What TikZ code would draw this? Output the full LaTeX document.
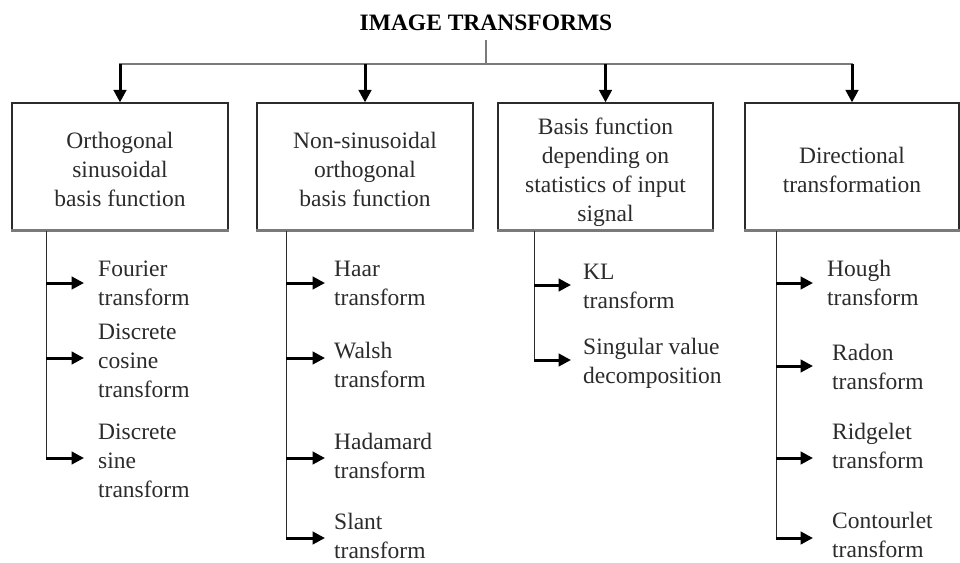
\documentclass[tikz,border=0pt]{standalone}
\usepackage{fontspec}
\setmainfont{Liberation Serif}
\usetikzlibrary{arrows.meta}
\definecolor{ink}{HTML}{2B2B2B}
\definecolor{rulegray}{HTML}{7A7A7A}
% invisible props that fix the vertical extent of multi-line texts
\newcommand{\topprop}{\rule{0pt}{31pt}}
\newcommand{\boxfoot}{\rule[-8.5pt]{0pt}{8.5pt}}
\begin{document}
\begin{tikzpicture}[x=1pt,y=-1pt,
  txt/.style={font=\fontsize{23.5}{29}\selectfont, text=ink},
  catbox/.style={txt, draw=ink, line width=1.2pt, minimum height=127pt,
                 inner sep=0pt, align=center},
  leaf/.style={txt, anchor=west, align=left, inner sep=0pt},
  hline/.style={draw=rulegray, line width=1.3pt},
  stem/.style={draw=ink, line width=1.3pt},
  shade/.style={draw=rulegray, line width=3pt},
  arr/.style={draw=black, line width=3pt, -{Triangle[length=12.5pt,width=12.5pt]}},
]
\useasboundingbox (0,0) rectangle (960,562);

% title and distribution bar
\node[font=\fontsize{23.5}{29}\selectfont\bfseries, inner sep=0pt, anchor=base] (title) at (486,30) {IMAGE TRANSFORMS};
\coordinate (hub) at (486,64);
\coordinate (barL) at (119,64);
\coordinate (barR) at (853,64);
\draw[hline] ([yshift=-10pt]title.south) -- (hub);
\draw[hline] (barL) -- (barR);

% category boxes
\node[catbox, minimum width=216pt] (b1) at (120,166.5) {\topprop Orthogonal\\sinusoidal\\basis function\boxfoot};
\node[catbox, minimum width=216pt] (b2) at (365,166.5) {\topprop Non-sinusoidal\\orthogonal\\basis function\boxfoot};
\node[catbox, minimum width=215pt] (b3) at (605.5,166.5) {\topprop Basis function\\depending on\\statistics of input\\signal\boxfoot};
\node[catbox, minimum width=214pt] (b4) at (852,166.5) {\topprop Directional\\transformation\boxfoot};
\foreach \b in {b1,b2,b3,b4}{
  \draw[shade] (\b.south west) -- (\b.south east);
  \draw[arr] (\b.north |- hub) -- (\b.north);
}

% stems under each box
\coordinate (s1) at ([xshift=35pt]b1.south west);
\coordinate (s2) at ([xshift=30pt]b2.south west);
\coordinate (s3) at ([xshift=37pt]b3.south west);
\coordinate (s4) at ([xshift=32pt]b4.south west);

% leaves
\node[leaf] (l11) at (98,285) {\strut Fourier\\transform\strut};
\node[leaf] (l12) at (98,363) {\strut Discrete\\cosine\\transform\strut};
\node[leaf] (l13) at (98,463) {\strut Discrete\\sine\\transform\strut};

\node[leaf] (l21) at (334,285) {\strut Haar\\transform\strut};
\node[leaf] (l22) at (334,367) {\strut Walsh\\transform\strut};
\node[leaf] (l23) at (334,458) {\strut Hadamard\\transform\strut};
\node[leaf] (l24) at (334,533.5) {\strut Slant\\transform};

\node[leaf] (l31) at (583,288) {\strut KL\\transform\strut};
\node[leaf] (l32) at (583,363) {\strut Singular value\\decomposition\strut};

\node[leaf] (l41) at (827,285) {\strut Hough\\transform\strut};
\node[leaf] (l42) at (832,369.5) {\strut Radon\\transform\strut};
\node[leaf] (l43) at (832,448) {\strut Ridgelet\\transform\strut};
\node[leaf] (l44) at (832,532.5) {\strut Contourlet\\transform};

% arrow tips of the branches
\coordinate (t11) at (84,283);
\coordinate (t12) at (84,358);
\coordinate (t13) at (84,458);
\coordinate (t21) at (325,283);
\coordinate (t22) at (325,358);
\coordinate (t23) at (325,458);
\coordinate (t24) at (325,538);
\coordinate (t31) at (571,285);
\coordinate (t32) at (571,360);
\coordinate (t41) at (813,283);
\coordinate (t42) at (813,366);
\coordinate (t43) at (813,458);
\coordinate (t44) at (813,538);

\draw[stem] (s1) -- (s1 |- t13);
\draw[stem] (s2) -- (s2 |- t24);
\draw[stem] (s3) -- (s3 |- t32);
\draw[stem] (s4) -- (s4 |- t44);

\foreach \t in {t11,t12,t13}{\draw[arr] (s1 |- \t) -- (\t);}
\foreach \t in {t21,t22,t23,t24}{\draw[arr] (s2 |- \t) -- (\t);}
\foreach \t in {t31,t32}{\draw[arr] (s3 |- \t) -- (\t);}
\foreach \t in {t41,t42,t43,t44}{\draw[arr] (s4 |- \t) -- (\t);}
\end{tikzpicture}
\end{document}
